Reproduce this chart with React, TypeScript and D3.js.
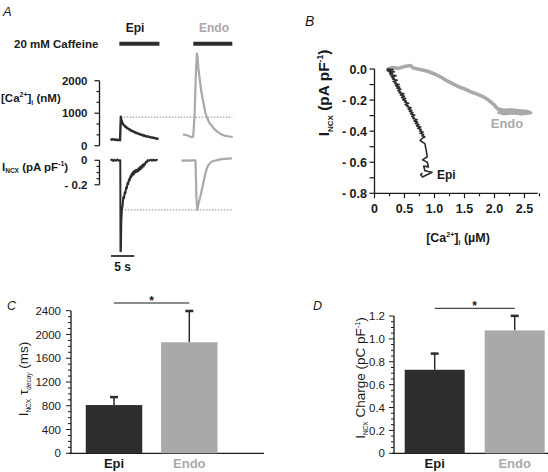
import React from "react";
import * as d3 from "d3";

type P = [number, number];

// ---------- Panel A: traces (time in s, value) ----------
const caEpi: P[] = [
  [0.0, 205], [0.3, 185], [0.6, 200], [0.9, 178], [1.2, 190], [1.5, 172], [1.8, 182], [2.05, 168],
  [2.15, 620], [2.22, 895], [2.3, 800], [2.4, 760], [2.55, 700], [2.7, 665], [2.85, 630], [3.0, 620],
  [3.15, 585], [3.3, 590], [3.5, 545], [3.7, 540], [3.9, 505], [4.1, 505], [4.3, 470], [4.5, 470],
  [4.7, 440], [4.9, 445], [5.1, 415], [5.3, 418], [5.5, 390], [5.7, 395], [5.9, 368], [6.1, 372],
  [6.3, 345], [6.5, 350], [6.7, 325], [6.9, 330], [7.1, 308], [7.3, 312], [7.5, 292], [7.7, 296],
  [7.9, 278], [8.1, 282], [8.3, 265], [8.5, 268], [8.7, 250], [8.9, 255], [9.1, 240], [9.3, 243],
  [9.5, 228], [9.7, 232], [9.9, 215], [10.1, 218], [10.3, 205]
];
const caEndo: P[] = [
  [0.3, 345], [0.8, 335], [1.3, 315], [1.8, 285], [2.2, 262], [2.5, 275], [2.8, 900], [3.05, 2100],
  [3.3, 2840], [3.45, 2700], [3.65, 2350], [3.95, 2000], [4.3, 1620], [4.7, 1330], [5.1, 1020],
  [5.5, 860], [6.0, 700], [6.5, 620], [7.0, 520], [7.6, 440], [8.3, 370], [9.0, 320], [9.7, 296],
  [10.4, 282], [11.0, 276]
];
const incxEpi: P[] = [
  [0.0, 0.0], [0.3, 0.006], [0.6, -0.005], [0.9, 0.005], [1.2, -0.004], [1.5, 0.006], [1.8, -0.004],
  [2.1, 0.0], [2.15, -0.742], [2.22, -0.742], [2.32, -0.5], [2.45, -0.405], [2.6, -0.37], [2.75, -0.3],
  [2.9, -0.31], [3.05, -0.26], [3.2, -0.27], [3.35, -0.22], [3.5, -0.23], [3.65, -0.185], [3.8, -0.195],
  [3.95, -0.155], [4.1, -0.165], [4.25, -0.13], [4.4, -0.14], [4.55, -0.11], [4.7, -0.125],
  [4.85, -0.095], [5.0, -0.115], [5.15, -0.085], [5.3, -0.1], [5.45, -0.08], [5.6, -0.095],
  [5.75, -0.075], [5.9, -0.09], [6.05, -0.065], [6.2, -0.08], [6.35, -0.055], [6.5, -0.072],
  [6.65, -0.045], [6.8, -0.06], [6.95, -0.035], [7.1, -0.05], [7.25, -0.028], [7.4, -0.035],
  [7.6, -0.012], [7.8, -0.015], [8.0, 0.002], [8.3, -0.004], [8.6, 0.005], [8.9, -0.003],
  [9.2, 0.005], [9.5, -0.003], [9.8, 0.004], [10.1, 0.0]
];
const incxEndo: P[] = [
  [0.0, -0.003], [0.8, 0.0], [1.6, -0.002], [2.4, 0.0], [3.0, 0.0], [3.2, -0.3], [3.38, -0.406],
  [3.6, -0.36], [4.1, -0.285], [4.6, -0.2], [5.05, -0.12], [5.4, -0.07], [5.75, -0.038], [6.5, -0.01],
  [7.5, 0.0], [8.3, 0.008], [9.2, 0.012], [10.0, 0.014], [10.8, 0.016]
];
const caffeineEpi = [1.9, 10.5];
const caffeineEndo = [2.53, 10.9];
const caRefLevel = 880;
const incxRefLevel = -0.405;
const caTickLabels = [0, 1000, 2000];
const incxTickLabels = [0, -0.2];
const scaleBarSeconds = 5;

// ---------- Panel B: INCX vs [Ca]i (µM, pA/pF) ----------
const ivEpi: P[] = [
  [0.2, 0.0], [0.31, -0.004], [0.21, -0.008], [0.28, -0.003], [0.22, -0.012], [0.33, -0.018],
  [0.25, -0.024], [0.3, -0.03], [0.26, -0.036], [0.36, -0.044], [0.28, -0.05], [0.33, -0.058],
  [0.3, -0.064], [0.38, -0.072], [0.31, -0.08], [0.36, -0.088], [0.34, -0.094], [0.41, -0.1],
  [0.35, -0.108], [0.42, -0.116], [0.37, -0.122], [0.44, -0.13], [0.39, -0.138], [0.43, -0.146],
  [0.41, -0.152], [0.49, -0.16], [0.43, -0.168], [0.5, -0.176], [0.45, -0.184], [0.52, -0.19],
  [0.47, -0.198], [0.53, -0.206], [0.5, -0.212], [0.57, -0.22], [0.51, -0.228], [0.56, -0.236],
  [0.54, -0.242], [0.61, -0.25], [0.56, -0.258], [0.62, -0.266], [0.58, -0.272], [0.64, -0.28],
  [0.6, -0.288], [0.67, -0.296], [0.62, -0.304], [0.66, -0.312], [0.64, -0.318], [0.71, -0.326],
  [0.66, -0.334], [0.72, -0.342], [0.68, -0.35], [0.74, -0.358], [0.7, -0.366], [0.77, -0.374],
  [0.72, -0.382], [0.78, -0.39], [0.75, -0.398], [0.81, -0.406], [0.76, -0.414], [0.82, -0.422],
  [0.79, -0.43], [0.84, -0.438], [0.8, -0.444],
  [0.76, -0.46], [0.84, -0.48], [0.86, -0.52], [0.88, -0.565], [0.8, -0.585], [0.88, -0.6],
  [0.9, -0.63], [0.82, -0.625], [0.84, -0.655], [0.96, -0.665], [0.8, -0.695], [0.77, -0.68],
  [0.8, -0.67]
];
const ivEndo: P[] = [
  [0.22, 0.0], [0.3, 0.01], [0.4, 0.004], [0.5, 0.016], [0.6, 0.022], [0.65, 0.006], [0.72, 0.0],
  [0.8, -0.006], [0.9, -0.016], [1.0, -0.032], [1.1, -0.05], [1.2, -0.074], [1.3, -0.094],
  [1.4, -0.114], [1.5, -0.128], [1.6, -0.146], [1.7, -0.16], [1.8, -0.176], [1.9, -0.2],
  [2.0, -0.232], [2.05, -0.256], [2.15, -0.266], [2.3, -0.264], [2.45, -0.27], [2.55, -0.274],
  [2.6, -0.282], [2.45, -0.288], [2.3, -0.282], [2.15, -0.287], [2.05, -0.276]
];
const ivXTicks = [0, 0.5, 1.0, 1.5, 2.0, 2.5];
const ivYTicks = [0, -0.2, -0.4, -0.6, -0.8];

// ---------- Panels C & D: bars ----------
const groups = ["Epi", "Endo"];
const tauMean = [812, 1868];
const tauSem = [151, 544];
const tauTicks = [0, 400, 800, 1200, 1600, 2000, 2400];
const chargeMean = [0.73, 1.074];
const chargeSem = [0.15, 0.136];
const chargeTicks = [0, 0.2, 0.4, 0.6, 0.8, 1.0, 1.2];

// ---------- style ----------
const FONT = "'Liberation Sans', Arial, Helvetica, sans-serif";
const DARK = "#2d2d2d";
const LIGHT = "#a9a9a9";
const TXT = "#1a1a1a";

// ---------- scales ----------
const PX_PER_5S = 23.3;
const xEpi = d3.scaleLinear().domain([0, 5]).range([110.5, 110.5 + PX_PER_5S]);
const xEndo = d3.scaleLinear().domain([0, 5]).range([181.5, 181.5 + PX_PER_5S]);
const yCa = d3.scaleLinear().domain([0, 2000]).range([145.7, 80.7]);
const yI = d3.scaleLinear().domain([-0.2, 0]).range([184.8, 160.3]);

const xB = d3.scaleLinear().domain([0, 2.5]).range([374.5, 524.5]);
const yB = d3.scaleLinear().domain([-0.8, 0]).range([193.3, 69]);

const yC = d3.scaleLinear().domain([0, 2400]).range([453.3, 310.7]);
const xC = d3.scaleBand<string>().domain(groups).range([70.7, 232.6]).paddingInner(0.25).paddingOuter(0.2);
const yD = d3.scaleLinear().domain([0, 1.2]).range([453.3, 316]);
const xD = d3.scaleBand<string>().domain(groups).range([392.7, 556.7]).paddingInner(0.25).paddingOuter(0.15);

function trace(xs: d3.ScaleLinear<number, number>, ys: d3.ScaleLinear<number, number>, data: P[]) {
  return d3.line<P>().x((d) => xs(d[0])).y((d) => ys(d[1]))(data) || "";
}

export default function App() {
  const axA = 99.5;
  const caMinor = d3.range(0, 2000.1, 1000 / 3);
  const iMinor = d3.range(-0.2, 0.0001, 0.05);
  const scaleBarY = 256;

  const bxMinor = d3.range(0, 2.76, 0.25);
  const byMinor = d3.range(-0.8, 0.0001, 0.1);
  const fmtB = (v: number) => (Math.abs(v) < 1e-9 ? "0.0" : "- " + Math.abs(v).toFixed(1));
  const fmtBx = (v: number) => (v === 0 ? "0" : v.toFixed(1));

  const cMinor = d3.range(0, 2400.1, 100);
  const dMinor = d3.range(0, 1.2001, 0.05);

  const axC = 71;
  const axD = 394;

  return (
    <svg
      width={548}
      height={472}
      viewBox="0 0 548 472"
      style={{ position: "absolute", left: 0, top: 0, background: "#fff" }}
      fontFamily={FONT}
    >
      <rect x={0} y={0} width={548} height={472} fill="#fff" />

      {/* ================= Panel A ================= */}
      <text x={3} y={16} fontSize={13} fontStyle="italic" fill={TXT}>A</text>
      <text x={135} y={32} fontSize={12} fontWeight="bold" fill={TXT} textAnchor="middle">Epi</text>
      <text x={214} y={32} fontSize={12} fontWeight="bold" fill={LIGHT} textAnchor="middle">Endo</text>
      <text x={14} y={47.5} fontSize={11.5} fontWeight="bold" fill={TXT}>20 mM Caffeine</text>
      <line x1={xEpi(caffeineEpi[0])} x2={xEpi(caffeineEpi[1])} y1={43.7} y2={43.7} stroke={DARK} strokeWidth={4} />
      <line x1={xEndo(caffeineEndo[0])} x2={xEndo(caffeineEndo[1])} y1={43.7} y2={43.7} stroke={DARK} strokeWidth={4} />

      {/* Ca axis */}
      <text x={1} y={102} fontSize={11.5} fontWeight="bold" fill={TXT}>
        [Ca<tspan fontSize={7} dy={-5}>2+</tspan><tspan dy={5}>]</tspan><tspan fontSize={7} dy={3}>i</tspan><tspan dy={-3}> (nM)</tspan>
      </text>
      <line x1={axA} x2={axA} y1={yCa(2000)} y2={yCa(0)} stroke={TXT} strokeWidth={1.3} />
      {caMinor.map((v, i) => {
        const major = caTickLabels.some((t) => Math.abs(t - v) < 1);
        return <line key={i} x1={axA - (major ? 5 : 3)} x2={axA} y1={yCa(v)} y2={yCa(v)} stroke={TXT} strokeWidth={1.2} />;
      })}
      {caTickLabels.map((v) => (
        <text key={v} x={axA - 12} y={yCa(v)} dy="0.36em" fontSize={11.5} fontWeight="bold" fill={TXT} textAnchor="end">{v}</text>
      ))}

      {/* INCX axis */}
      <text x={2} y={170.5} fontSize={11.5} fontWeight="bold" fill={TXT}>
        I<tspan fontSize={6.5} dy={2.5}>NCX</tspan><tspan dy={-2.5}> (pA pF</tspan><tspan fontSize={7} dy={-5}>-1</tspan><tspan dy={5}>)</tspan>
      </text>
      <line x1={axA} x2={axA} y1={yI(0)} y2={yI(-0.2)} stroke={TXT} strokeWidth={1.3} />
      {iMinor.map((v, i) => {
        const major = incxTickLabels.some((t) => Math.abs(t - v) < 1e-6);
        return <line key={i} x1={axA - (major ? 5 : 3)} x2={axA} y1={yI(v)} y2={yI(v)} stroke={TXT} strokeWidth={1.2} />;
      })}
      {incxTickLabels.map((v) => (
        <text key={v} x={axA - 12} y={yI(v)} dy="0.36em" fontSize={11.5} fontWeight="bold" fill={TXT} textAnchor="end">
          {v === 0 ? "0" : "- " + Math.abs(v).toFixed(1)}
        </text>
      ))}

      {/* reference dotted lines */}
      <line x1={xEpi(2.2)} x2={xEndo(10.9)} y1={yCa(caRefLevel)} y2={yCa(caRefLevel)} stroke="#888" strokeWidth={1} strokeDasharray="1.5,1.5" />
      <line x1={xEpi(2.45)} x2={xEndo(10.9)} y1={yI(incxRefLevel)} y2={yI(incxRefLevel)} stroke="#888" strokeWidth={1} strokeDasharray="1.5,1.5" />

      {/* traces */}
      <path d={trace(xEpi, yCa, caEpi)} fill="none" stroke={DARK} strokeWidth={2.4} strokeLinejoin="round" />
      <path d={trace(xEndo, yCa, caEndo)} fill="none" stroke={LIGHT} strokeWidth={2.2} strokeLinejoin="round" />
      <path d={trace(xEpi, yI, incxEpi)} fill="none" stroke={DARK} strokeWidth={2} strokeLinejoin="round" />
      <path d={trace(xEndo, yI, incxEndo)} fill="none" stroke={LIGHT} strokeWidth={2.2} strokeLinejoin="round" />

      {/* scale bar */}
      <line x1={xEpi(0.1)} x2={xEpi(0.1 + scaleBarSeconds)} y1={scaleBarY} y2={scaleBarY} stroke={DARK} strokeWidth={1.8} />
      <text x={(xEpi(0.1) + xEpi(0.1 + scaleBarSeconds)) / 2} y={271} fontSize={12} fontWeight="bold" fill={TXT} textAnchor="middle">5 s</text>

      {/* ================= Panel B ================= */}
      <text x={305} y={26} fontSize={14} fontStyle="italic" fill={TXT}>B</text>
      <line x1={xB(0)} x2={xB(0)} y1={yB(-0.8)} y2={yB(0)} stroke={TXT} strokeWidth={1.3} />
      <line x1={xB(0)} x2={xB(2.72)} y1={yB(-0.8)} y2={yB(-0.8)} stroke={TXT} strokeWidth={1.3} />
      {byMinor.map((v, i) => (
        <line key={i} x1={xB(0) - 5} x2={xB(0)} y1={yB(v)} y2={yB(v)} stroke={TXT} strokeWidth={1.2} />
      ))}
      {ivYTicks.map((v) => (
        <text key={v} x={367} y={yB(v)} dy="0.36em" fontSize={12.5} fontWeight="bold" fill={TXT} textAnchor="end">{fmtB(v)}</text>
      ))}
      {bxMinor.map((v, i) => {
        const major = Math.abs(v * 2 - Math.round(v * 2)) < 1e-6;
        return <line key={i} x1={xB(v)} x2={xB(v)} y1={yB(-0.8)} y2={yB(-0.8) + (major ? 5 : 3)} stroke={TXT} strokeWidth={1.2} />;
      })}
      {ivXTicks.map((v) => (
        <text key={v} x={xB(v)} y={213} fontSize={12.5} fontWeight="bold" fill={TXT} textAnchor="middle">{fmtBx(v)}</text>
      ))}
      <text x={458} y={242} fontSize={12.5} fontWeight="bold" fill={TXT} textAnchor="middle">
        [Ca<tspan fontSize={7} dy={-5}>2+</tspan><tspan dy={5}>]</tspan><tspan fontSize={7} dy={3}>i</tspan><tspan dy={-3}> (µM)</tspan>
      </text>
      <text transform="translate(329,93) rotate(-90)" fontSize={15.5} fontWeight="bold" fill={TXT} textAnchor="middle">
        I<tspan fontSize={8} dy={3.5}>NCX</tspan><tspan dy={-3.5}> (pA pF</tspan><tspan fontSize={8.5} dy={-6.5}>-1</tspan><tspan dy={6.5}>)</tspan>
      </text>
      <path d={trace(xB, yB, ivEndo)} fill="none" stroke={LIGHT} strokeWidth={3.6} strokeLinejoin="round" />
      <path d={trace(xB, yB, ivEpi)} fill="none" stroke={DARK} strokeWidth={1.6} strokeLinejoin="round" />
      <text x={507} y={128} fontSize={13} fontWeight="bold" fill={LIGHT} textAnchor="middle">Endo</text>
      <text x={437} y={179} fontSize={12} fontWeight="bold" fill={TXT}>Epi</text>

      {/* ================= Panel C ================= */}
      <text x={7} y={309.5} fontSize={12.5} fontStyle="italic" fill={TXT}>C</text>
      <line x1={axC} x2={axC} y1={yC(2400)} y2={yC(0)} stroke={TXT} strokeWidth={1.3} />
      <line x1={axC - 2} x2={264} y1={yC(0)} y2={yC(0)} stroke={TXT} strokeWidth={1.3} />
      {cMinor.map((v, i) => {
        const major = v % 400 === 0;
        return <line key={i} x1={axC - (major ? 5 : 3)} x2={axC} y1={yC(v)} y2={yC(v)} stroke={TXT} strokeWidth={1} />;
      })}
      {tauTicks.map((v) => (
        <text key={v} x={61} y={yC(v)} dy="0.36em" fontSize={11.5} fill={TXT} textAnchor="end">{v}</text>
      ))}
      <text transform={`translate(28,379) rotate(-90)`} fontSize={13.5} fill={TXT} textAnchor="middle">
        I<tspan fontSize={6.5} dy={3}>NCX</tspan><tspan dy={-3}> τ</tspan><tspan fontSize={6.5} dy={3} fontStyle="italic">decay</tspan><tspan dy={-3}> (ms)</tspan>
      </text>
      {groups.map((g, i) => {
        const x0 = xC(g)!;
        const bw = xC.bandwidth();
        const cx = x0 + bw / 2;
        return (
          <g key={g}>
            <line x1={cx} x2={cx} y1={yC(tauMean[i])} y2={yC(tauMean[i] + tauSem[i])} stroke={DARK} strokeWidth={1.5} />
            <line x1={cx - 4} x2={cx + 4} y1={yC(tauMean[i] + tauSem[i]) + 1} y2={yC(tauMean[i] + tauSem[i]) + 1} stroke={DARK} strokeWidth={2.5} />
            <rect x={x0} y={yC(tauMean[i])} width={bw} height={yC(0) - yC(tauMean[i])} fill={i === 0 ? DARK : LIGHT} />
            <text x={cx} y={468} fontSize={13} fontWeight="bold" fill={i === 0 ? TXT : LIGHT} textAnchor="middle">{g}</text>
          </g>
        );
      })}
      <line x1={xC("Epi")! + xC.bandwidth() / 2} x2={xC("Endo")! + xC.bandwidth() / 2} y1={303} y2={303} stroke={TXT} strokeWidth={1} />
      <text x={(xC("Epi")! + xC("Endo")! + xC.bandwidth()) / 2} y={305} fontSize={12} fontWeight="bold" fill={TXT} textAnchor="middle">*</text>

      {/* ================= Panel D ================= */}
      <text x={313} y={309.5} fontSize={12.5} fontStyle="italic" fill={TXT}>D</text>
      <line x1={axD} x2={axD} y1={yD(1.2)} y2={yD(0)} stroke={TXT} strokeWidth={1.3} />
      <line x1={axD - 2} x2={548} y1={yD(0)} y2={yD(0)} stroke={TXT} strokeWidth={1.3} />
      {dMinor.map((v, i) => {
        const major = Math.abs(v * 5 - Math.round(v * 5)) < 1e-6;
        return <line key={i} x1={axD - (major ? 5 : 3)} x2={axD} y1={yD(v)} y2={yD(v)} stroke={TXT} strokeWidth={1} />;
      })}
      {chargeTicks.map((v) => (
        <text key={v} x={385} y={yD(v)} dy="0.36em" fontSize={11.5} fill={TXT} textAnchor="end">{v === 0 ? "0" : v.toFixed(1)}</text>
      ))}
      <text transform={`translate(365,378) rotate(-90)`} fontSize={13.5} fill={TXT} textAnchor="middle">
        I<tspan fontSize={6.5} dy={3}>NCX</tspan><tspan dy={-3}> Charge (pC pF</tspan><tspan fontSize={7.5} dy={-5.5}>-1</tspan><tspan dy={5.5}>)</tspan>
      </text>
      {groups.map((g, i) => {
        const x0 = xD(g)!;
        const bw = xD.bandwidth();
        const cx = x0 + bw / 2;
        return (
          <g key={g}>
            <line x1={cx} x2={cx} y1={yD(chargeMean[i])} y2={yD(chargeMean[i] + chargeSem[i])} stroke={DARK} strokeWidth={1.5} />
            <line x1={cx - 4} x2={cx + 4} y1={yD(chargeMean[i] + chargeSem[i]) + 1} y2={yD(chargeMean[i] + chargeSem[i]) + 1} stroke={DARK} strokeWidth={2.5} />
            <rect x={x0} y={yD(chargeMean[i])} width={bw} height={yD(0) - yD(chargeMean[i])} fill={i === 0 ? DARK : LIGHT} />
            <text x={cx} y={468} fontSize={13} fontWeight="bold" fill={i === 0 ? TXT : LIGHT} textAnchor="middle">{g}</text>
          </g>
        );
      })}
      <line x1={xD("Epi")! + xD.bandwidth() / 2} x2={xD("Endo")! + xD.bandwidth() / 2} y1={308.3} y2={308.3} stroke={TXT} strokeWidth={1} />
      <text x={(xD("Epi")! + xD("Endo")! + xD.bandwidth()) / 2} y={310} fontSize={12} fontWeight="bold" fill={TXT} textAnchor="middle">*</text>
    </svg>
  );
}
